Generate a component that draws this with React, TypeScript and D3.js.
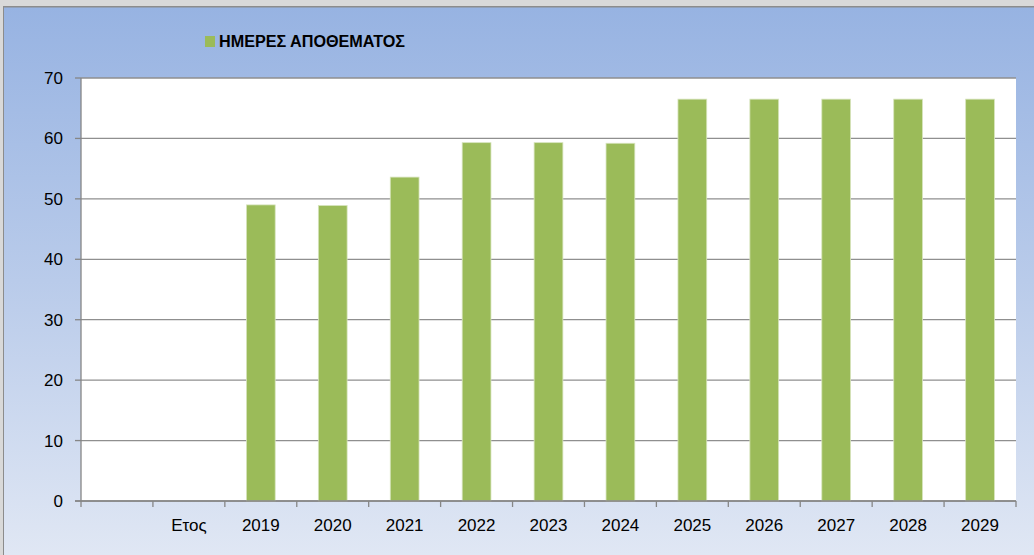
import React from "react";
import * as d3 from "d3";

const categories: string[] = ["", "Ετος", "2019", "2020", "2021", "2022", "2023", "2024", "2025", "2026", "2027", "2028", "2029"];
const values: (number | null)[] = [null, null, 49.0, 48.9, 53.6, 59.3, 59.3, 59.2, 66.5, 66.5, 66.5, 66.5, 66.5];
const yTicks: number[] = [0, 10, 20, 30, 40, 50, 60, 70];
const seriesName = "ΗΜΕΡΕΣ ΑΠΟΘΕΜΑΤΟΣ";

const W = 1034;
const H = 555;
const plot = { left: 81, right: 1016, top: 78, bottom: 501 };
const FONT = "'Liberation Sans', Arial, sans-serif";

export default function App() {
  const x = d3
    .scaleBand<string>()
    .domain(categories.map((c, i) => `${i}`))
    .range([plot.left, plot.right])
    .paddingInner(0.6)
    .paddingOuter(0.3);
  const xb = d3.scaleBand<string>().domain(categories.map((c, i) => `${i}`)).range([plot.left, plot.right]);
  const y = d3.scaleLinear().domain([0, 70]).range([plot.bottom, plot.top]);

  const tickXs = d3.range(categories.length + 1).map((i) => plot.left + i * xb.step());

  return (
    <svg width={W} height={H} style={{ position: "absolute", left: 0, top: 0 }} fontFamily={FONT}>
      <defs>
        <linearGradient id="bg" x1="0" y1="0" x2="0" y2="1">
          <stop offset="0" stopColor="#97b3e2" />
          <stop offset="0.5" stopColor="#b9cbea" />
          <stop offset="1" stopColor="#e0e7f4" />
        </linearGradient>
      </defs>
      <rect x={0} y={0} width={W} height={H} fill="#d9d9d9" />
      <rect x={3} y={6} width={W - 3} height={H - 6} fill="#8c8c8c" />
      <rect x={4} y={7.5} width={W - 4} height={H - 7.5} fill="url(#bg)" />

      {/* plot area */}
      <rect x={plot.left} y={plot.top} width={plot.right - plot.left} height={plot.bottom - plot.top} fill="#ffffff" />

      {/* gridlines */}
      {yTicks.map((t) => (
        <line key={"g" + t} x1={plot.left} x2={plot.right} y1={y(t)} y2={y(t)} stroke="#8f8f8f" strokeWidth={1.3} />
      ))}

      {/* bars */}
      {categories.map((c, i) => {
        const v = values[i];
        if (v == null) return null;
        return (
          <rect
            key={"b" + i}
            x={x(`${i}`)!}
            y={y(v)}
            width={x.bandwidth()}
            height={y(0) - y(v)}
            fill="#9bbb59"
            stroke="#d7e4bd"
            strokeWidth={0.8}
          />
        );
      })}

      {/* axes */}
      <line x1={plot.left} x2={plot.left} y1={plot.top} y2={plot.bottom} stroke="#868686" strokeWidth={1.3} />
      <line x1={plot.left - 6} x2={plot.right} y1={plot.bottom} y2={plot.bottom} stroke="#868686" strokeWidth={1.3} />
      {yTicks.map((t) => (
        <g key={"yt" + t}>
          <line x1={plot.left - 6} x2={plot.left} y1={y(t)} y2={y(t)} stroke="#868686" strokeWidth={1.3} />
          <text x={63} y={y(t) + 6} textAnchor="end" fontSize={17} fill="#000">
            {t}
          </text>
        </g>
      ))}
      {tickXs.map((tx, i) => (
        <line key={"xt" + i} x1={tx} x2={tx} y1={plot.bottom} y2={plot.bottom + 6} stroke="#868686" strokeWidth={1.3} />
      ))}
      {categories.map((c, i) => (
        <text key={"xl" + i} x={xb(`${i}`)! + xb.bandwidth() / 2} y={531} textAnchor="middle" fontSize={17} fill="#000">
          {c}
        </text>
      ))}

      {/* legend */}
      <rect x={205} y={36} width={10} height={11} fill="#9bbb59" />
      <text x={219} y={47} fontSize={16} fontWeight="bold" fill="#000" textLength={186} lengthAdjust="spacingAndGlyphs">
        {seriesName}
      </text>
    </svg>
  );
}
